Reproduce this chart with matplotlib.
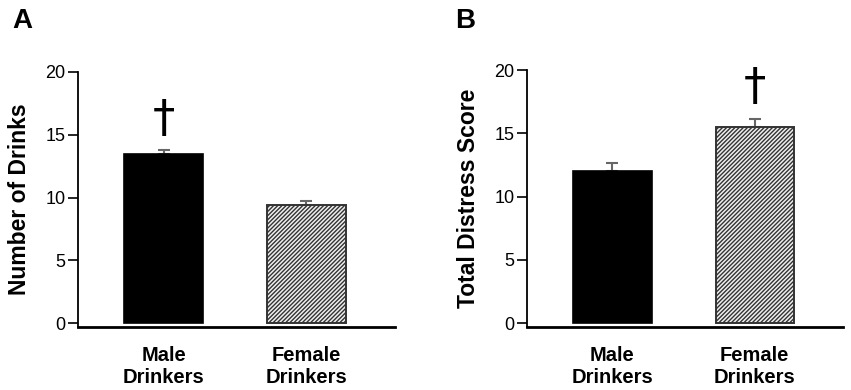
import matplotlib
matplotlib.use("Agg")
import matplotlib.pyplot as plt

plt.rcParams["font.family"] = ["Liberation Sans", "DejaVu Sans"]
plt.rcParams["hatch.linewidth"] = 1.0
plt.rcParams["hatch.color"] = "#6a6a6a"

groups = ["Male\nDrinkers", "Female\nDrinkers"]
drinks_mean = [13.45, 9.4]
drinks_err = [0.35, 0.35]
distress_mean = [12.05, 15.5]
distress_err = [0.6, 0.6]
dagger_at = [0, 1]  # which bar gets the dagger in panel A, panel B
dagger_y = [16.2, 18.6]
y_ticks = [0, 5, 10, 15, 20]


def draw_panel(ax, means, errs, ylabel, dag_idx, dag_y):
    x = list(range(len(groups)))
    ax.bar(x[0], means[0], width=0.55, color="black", edgecolor="black", linewidth=1.2, zorder=2)
    ax.bar(x[1], means[1], width=0.55, color="#eeeeee", edgecolor="#333333",
           linewidth=1.4, hatch="////////", zorder=2)
    ax.errorbar(x, means, yerr=[[0] * len(errs), errs], fmt="none",
                ecolor="#666666", elinewidth=1.5, capsize=4, capthick=1.5, zorder=1)
    ax.text(x[dag_idx], dag_y, "\u2020", ha="center", va="center",
            fontsize=32, family="DejaVu Sans")
    ax.set_xlim(-0.6, 1.62)
    ax.set_ylim(-0.3, 20)
    ax.set_yticks(y_ticks)
    ax.set_xticks(x)
    ax.set_xticklabels(groups, fontsize=14.5, fontweight="bold", linespacing=1.2)
    ax.tick_params(axis="x", length=0, pad=14)
    ax.tick_params(axis="y", length=7, width=1.2, pad=2, labelsize=13, direction="out")
    ax.set_ylabel(ylabel, fontsize=16.5, fontweight="bold", labelpad=10)
    for s in ["top", "right"]:
        ax.spines[s].set_visible(False)
    ax.spines["left"].set_linewidth(1.3)
    ax.spines["bottom"].set_linewidth(2)


fig = plt.figure(figsize=(8.51, 3.9), dpi=100)
ax_a = fig.add_axes([78 / 851, 1 - 327 / 390, 317 / 851, 255 / 390])
ax_b = fig.add_axes([527 / 851, 1 - 327 / 390, 316 / 851, 257 / 390])

draw_panel(ax_a, drinks_mean, drinks_err, "Number of Drinks", dagger_at[0], dagger_y[0])
draw_panel(ax_b, distress_mean, distress_err, "Total Distress Score", dagger_at[1], dagger_y[1])

fig.text(12 / 851, 1 - 28 / 390, "A", fontsize=20, fontweight="bold", va="baseline")
fig.text(455 / 851, 1 - 28 / 390, "B", fontsize=20, fontweight="bold", va="baseline")

fig.savefig("out.png", dpi=100)
